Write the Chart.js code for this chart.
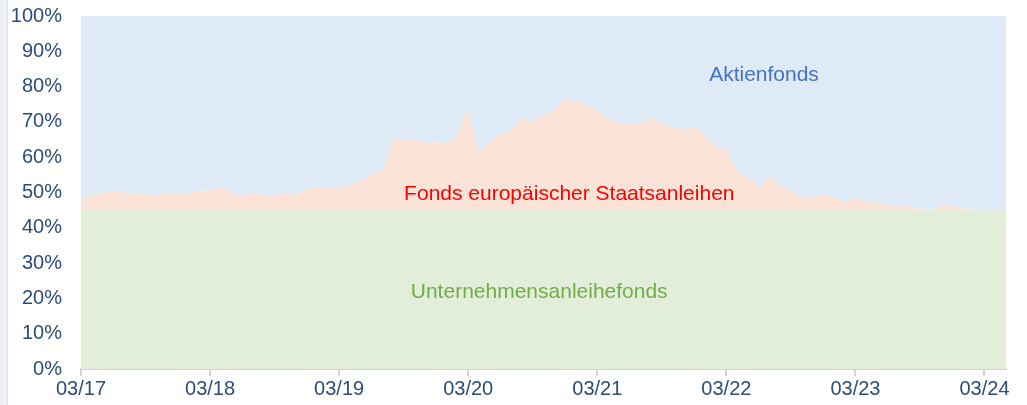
<!DOCTYPE html>
<html>
<head>
<meta charset="utf-8">
<script src="https://cdn.jsdelivr.net/npm/chart.js@4.4.1/dist/chart.umd.min.js"></script>
<style>
  html, body { margin: 0; padding: 0; background: #fff; }
  #wrap { width: 1027px; height: 405px; position: relative; }
  #edge { position: absolute; left: 0; top: 0; width: 7px; height: 405px; background: #eef1f5; border-right: 1px solid #dde2e8; }
</style>
</head>
<body>
<div id="wrap">
  <div id="edge"></div>
  <canvas id="myChart" width="1027" height="405"></canvas>
</div>
<script>
// monthly values, 03/2017 .. 05/2024 (share in %)
var tickLabels = ['03/17', '03/18', '03/19', '03/20', '03/21', '03/22', '03/23', '03/24'];

var unternehmensanleihen = [
  45,45,45,45,45,45,45,45,45,45,45,45,
  45,45,45,45,45,45,45,45,45,45,45,45,
  45,45,45,45,45,45,45,45,45,45,45,45,
  45,45,45,45,45,45,45,45,45,45,45,45,
  45,45,45,45,45,45,45,45,45,45,45,45,
  45,45,45,45,45,45,45,45,45,45,45,45,
  45,45,45,45,45,45,45,45,45,45,45,45,
  45,45,45
];

var staatsanleihen = [
  2.9,4.5,4.8,5.4,5.0,4.5,4.4,4.2,4.7,4.8,4.7,5.5,
  5.6,6.5,4.9,4.3,4.8,4.1,4.3,4.9,4.4,5.9,6.6,6.2,
  6.3,7.0,8.3,10.0,11.0,20.2,20.0,20.1,19.0,19.2,19.0,21.3,
  28.8,16.1,19.4,21.6,22.4,26.3,24.8,27.2,28.5,31.4,30.9,30.0,
  28.0,26.1,24.5,24.3,24.3,26.3,24.5,23.3,22.9,23.5,21.4,18.0,
  17.3,10.8,9.5,6.6,9.6,7.0,5.4,3.8,3.6,4.5,3.5,2.2,
  3.6,2.3,2.1,1.3,1.5,1.1,0.4,0.3,1.1,1.2,0.6,0.1,
  0,0,0
];

var aktienfonds = [
  52.1,50.5,50.2,49.6,50.0,50.5,50.6,50.8,50.3,50.2,50.3,49.5,
  49.4,48.5,50.1,50.7,50.2,50.9,50.7,50.1,50.6,49.1,48.4,48.8,
  48.7,48.0,46.7,45.0,44.0,34.8,35.0,34.9,36.0,35.8,36.0,33.7,
  26.2,38.9,35.6,33.4,32.6,28.7,30.2,27.8,26.5,23.6,24.1,25.0,
  27.0,28.9,30.5,30.7,30.7,28.7,30.5,31.7,32.1,31.5,33.6,37.0,
  37.7,44.2,45.5,48.4,45.4,48.0,49.6,51.2,51.4,50.5,51.5,52.8,
  51.4,52.7,52.9,53.7,53.5,53.9,54.6,54.7,53.9,53.8,54.4,54.9,
  55.0,55.0,55.0
];

var fontFam = '"Liberation Sans", Arial, sans-serif';
var tickColor = '#2c4c79';

function pts(arr) {
  return arr.map(function (v, i) { return { x: i, y: v }; });
}

// area labels placed in data coordinates
var areaLabels = [
  { text: 'Aktienfonds', x: 63.5, y: 83.3, color: '#4472c4' },
  { text: 'Fonds europäischer Staatsanleihen', x: 45.4, y: 49.6, color: '#ff0000' },
  { text: 'Unternehmensanleihefonds', x: 42.6, y: 21.8, color: '#70ad47' }
];

var labelPlugin = {
  id: 'areaLabels',
  afterDatasetsDraw: function (chart) {
    var c = chart.ctx;
    var xs = chart.scales.x, ys = chart.scales.y;
    c.save();
    c.font = '21px ' + fontFam;
    c.textAlign = 'center';
    c.textBaseline = 'middle';
    areaLabels.forEach(function (l) {
      c.fillStyle = l.color;
      c.fillText(l.text, xs.getPixelForValue(l.x), ys.getPixelForValue(l.y));
    });
    c.restore();
  }
};

var ctx = document.getElementById('myChart').getContext('2d');

var myChart = new Chart(ctx, {
  type: 'line',
  data: {
    datasets: [{
      label: 'Unternehmensanleihefonds',
      data: pts(unternehmensanleihen),
      backgroundColor: '#e2eed9',
      fill: 'origin'
    }, {
      label: 'Fonds europäischer Staatsanleihen',
      data: pts(staatsanleihen),
      backgroundColor: '#fbe4d7',
      fill: '-1'
    }, {
      label: 'Aktienfonds',
      data: pts(aktienfonds),
      backgroundColor: '#deeaf5',
      fill: '-1'
    }]
  },
  options: {
    responsive: false,
    animation: false,
    elements: {
      point: { radius: 0 },
      line: { borderWidth: 0, tension: 0 }
    },
    layout: { padding: { top: 16, right: 21, left: 10, bottom: 0 } },
    plugins: {
      legend: { display: false },
      tooltip: { enabled: false }
    },
    scales: {
      x: {
        type: 'linear',
        min: 0,
        max: 86,
        afterBuildTicks: function (scale) {
          scale.ticks = tickLabels.map(function (l, i) { return { value: i * 12 }; });
        },
        afterFit: function (scale) { scale.height = 36; },
        grid: { drawOnChartArea: false, drawTicks: true, tickLength: 7, color: '#d4d4d4', lineWidth: 2 },
        border: { display: true, color: '#d4d4d4', width: 2 },
        ticks: {
          autoSkip: false,
          maxRotation: 0,
          padding: 1,
          color: tickColor,
          font: { family: fontFam, size: 20 },
          callback: function (v) { return tickLabels[v / 12]; }
        }
      },
      y: {
        stacked: true,
        min: 0,
        max: 100,
        afterFit: function (scale) {
          scale.width = 71;
          scale.paddingTop = 0;
          scale.paddingBottom = 0;
        },
        grid: { display: false, drawTicks: false },
        border: { display: false },
        ticks: {
          stepSize: 10,
          padding: 19,
          color: tickColor,
          font: { family: fontFam, size: 20 },
          callback: function (v) { return v + '%'; }
        }
      }
    }
  },
  plugins: [labelPlugin]
});
</script>
</body>
</html>
